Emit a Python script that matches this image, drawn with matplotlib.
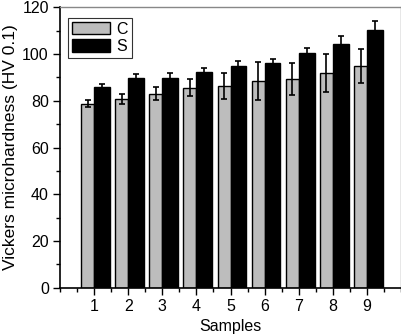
import matplotlib
matplotlib.use("Agg")
import matplotlib.pyplot as plt
import numpy as np
from matplotlib.ticker import MultipleLocator

plt.rcParams['font.family'] = ['Liberation Sans', 'DejaVu Sans']

samples = [1, 2, 3, 4, 5, 6, 7, 8, 9]
c_vals = [78.8, 80.8, 83.1, 85.6, 86.2, 88.5, 89.4, 92.0, 94.9]
c_err = [1.6, 2.0, 2.8, 3.7, 5.5, 8.0, 6.8, 8.2, 7.2]
s_vals = [85.9, 89.8, 89.8, 92.4, 94.7, 96.2, 100.5, 104.3, 110.5]
s_err = [1.1, 1.5, 2.1, 1.7, 2.4, 1.9, 2.3, 3.6, 3.8]

x = np.array(samples)

fig = plt.figure(figsize=(4.02, 3.35), dpi=100)
ax = fig.add_axes([0.149, 0.141, 0.849, 0.837])

ax.bar(x, c_vals, width=-0.38, align='edge', color='#bdbdbd',
       edgecolor='black', linewidth=1.0, label='C')
ax.bar(x, s_vals, width=0.46, align='edge', color='black',
       edgecolor='black', linewidth=1.0, label='S')
ax.errorbar(x - 0.19, c_vals, yerr=c_err, fmt='none', ecolor='black',
            elinewidth=1.2, capsize=2.5, capthick=1.2)
ax.errorbar(x + 0.23, s_vals, yerr=s_err, fmt='none', ecolor='black',
            elinewidth=1.2, capsize=2.5, capthick=1.2)

ax.set_xlim(0, 10)
ax.set_ylim(0, 120)
ax.set_xticks(samples)
ax.xaxis.set_minor_locator(MultipleLocator(0.5))
ax.yaxis.set_major_locator(MultipleLocator(20))
ax.yaxis.set_minor_locator(MultipleLocator(10))
ax.tick_params(which='major', direction='out', length=5, width=1, labelsize=11.5, pad=3)
ax.tick_params(which='minor', direction='out', length=3, width=1)
ax.tick_params(top=False, right=False, which='both')

for side in ['left', 'bottom']:
    ax.spines[side].set_linewidth(1.2)
for side in ['top', 'right']:
    ax.spines[side].set_color('#888888')
    ax.spines[side].set_linewidth(1.0)

ax.set_xlabel('Samples', fontsize=11.5, labelpad=4)
ax.set_ylabel('Vickers microhardness (HV 0.1)', fontsize=12.5, labelpad=3)

leg = ax.legend(loc='upper left', bbox_to_anchor=(0.014, 0.975), fontsize=11.5,
                frameon=True, fancybox=False, edgecolor='black',
                handlelength=2.4, handleheight=0.8, handletextpad=0.4,
                borderpad=0.25, labelspacing=0.15, borderaxespad=0.2)
leg.get_frame().set_linewidth(0.8)

fig.savefig('out.png', dpi=100)
